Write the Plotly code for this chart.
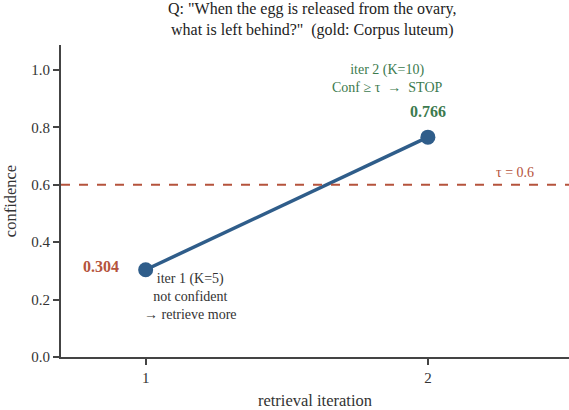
import plotly.graph_objects as go

iterations = [1, 2]
confidence = [0.304, 0.766]
tau = 0.6
x_ticks = [1, 2]
y_ticks = [0.0, 0.2, 0.4, 0.6, 0.8, 1.0]

FONT = "Liberation Serif, DejaVu Serif, serif"
fig = go.Figure()
fig.add_trace(go.Scatter(
    x=iterations, y=confidence, mode="lines+markers",
    line=dict(color="#2f5d8a", width=3.5),
    marker=dict(size=15, color="#2f5d8a"),
    showlegend=False, hoverinfo="skip"))
fig.add_shape(type="line", xref="paper", x0=0, x1=1, yref="y", y0=tau, y1=tau,
              line=dict(color="#b5533c", width=2, dash="dash"))

ann = []
ann.append(dict(x=iterations[1], y=confidence[1], text="<b>%.3f</b>" % confidence[1],
                xshift=0, yshift=26, font=dict(size=16, color="#3c7a4e")))
ann.append(dict(x=iterations[1], y=confidence[1], text="iter 2 (K=10)<br>Conf ≥ τ  →  STOP",
                xshift=-40, yshift=59, font=dict(size=14, color="#3c7a4e")))
ann.append(dict(x=iterations[0], y=confidence[0], text="<b>%.3f</b>" % confidence[0],
                xshift=-45, yshift=3, font=dict(size=16, color="#b5533c")))
ann.append(dict(x=iterations[0], y=confidence[0], text="iter 1 (K=5)<br>not confident<br>→ retrieve more",
                xshift=45, yshift=-27, font=dict(size=14, color="#333333")))
ann.append(dict(x=2.31, y=tau, text="τ = 0.6", yshift=12,
                font=dict(size=14, color="#b5533c")))
for a in ann:
    a.update(xref="x", yref="y", showarrow=False, font_family=FONT)
ann.append(dict(xref="paper", yref="paper", x=0.496, y=1, yanchor="bottom", yshift=4,
                showarrow=False,
                text='Q: "When the egg is released from the ovary,<br>what is left behind?"  (gold: Corpus luteum)',
                font=dict(size=16, color="#222222", family=FONT)))

fig.update_layout(
    width=569, height=410,
    margin=dict(l=61, r=0, t=45, b=53),
    paper_bgcolor="white", plot_bgcolor="white",
    font=dict(family=FONT, size=14, color="#333333"),
    annotations=ann,
    xaxis=dict(range=[0.7, 2.5], tickvals=x_ticks, ticktext=[str(v) for v in x_ticks],
               showgrid=False, zeroline=False, showline=True, linecolor="#444444", linewidth=2,
               ticks="outside", ticklen=6, tickwidth=1.5, tickcolor="#444444", automargin=False,
               title=dict(text="retrieval iteration", font=dict(size=16.5, family=FONT), standoff=10),
               tickfont=dict(size=15, family=FONT)),
    yaxis=dict(range=[0, 1.087], tickvals=y_ticks, ticktext=["%.1f" % v for v in y_ticks],
               showgrid=False, zeroline=False, showline=True, linecolor="#444444", linewidth=2,
               ticks="outside", ticklen=6, tickwidth=1.5, tickcolor="#444444", automargin=False,
               title=dict(text="confidence", font=dict(size=16.5, family=FONT), standoff=10),
               tickfont=dict(size=15, family=FONT)),
)
fig.write_html("out.html", config={"displayModeBar": False},
               post_script="document.body.style.margin='0';document.body.style.padding='0';")
